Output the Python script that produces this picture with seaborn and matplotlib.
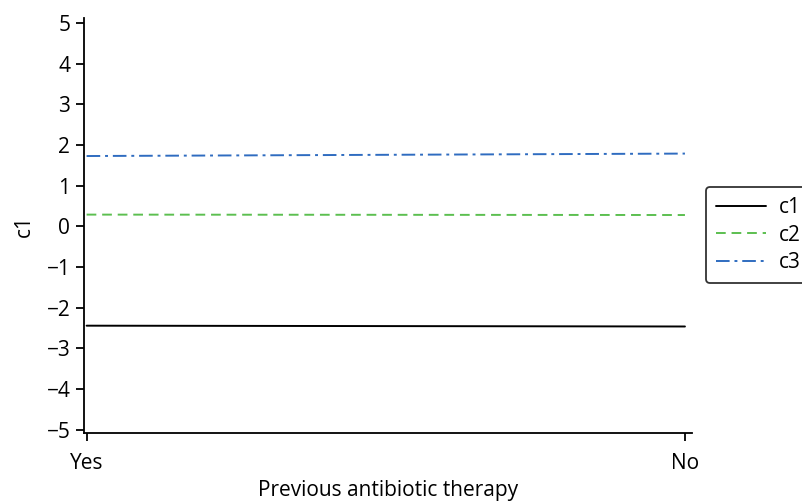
import matplotlib
matplotlib.use("Agg")
import matplotlib.pyplot as plt
import seaborn as sns
import pandas as pd

categories = ["Yes", "No"]
c1_vals = [-2.44, -2.46]
c2_vals = [0.29, 0.28]
c3_vals = [1.73, 1.79]
series_names = ["c1", "c2", "c3"]
colors = ["#000000", "#5cbf50", "#2f6cc0"]

rows = []
for name, vals in zip(series_names, [c1_vals, c2_vals, c3_vals]):
    for i, (cat, v) in enumerate(zip(categories, vals)):
        rows.append({"x": i, "cat": cat, "value": v, "series": name})
df = pd.DataFrame(rows)

sns.set_style("ticks")
plt.rcParams['font.family'] = ['Open Sans', 'DejaVu Sans']
plt.rcParams['text.color'] = 'black'
plt.rcParams['axes.labelcolor'] = 'black'

fig = plt.figure(figsize=(8.02, 5.03), dpi=100)
ax = fig.add_axes([0.105, 0.139, 0.758, 0.825])

dashes = {"c1": "", "c2": (5, 3), "c3": (7, 2.5, 1.5, 2.5)}
sns.lineplot(data=df, x="x", y="value", hue="series", style="series",
             palette=dict(zip(series_names, colors)), dashes=dashes,
             linewidth=1.4, ax=ax)

ax.set_xlim(-0.004, 1.012)
ax.set_ylim(-5.08, 5.12)
ax.set_xticks([0, 1])
ax.set_xticklabels(categories)
ax.set_yticks(range(-5, 6))
ax.set_yticklabels([str(v).replace("-", "\u2212") for v in range(-5, 6)])
ax.tick_params(labelsize=15, length=6, width=1.3, colors="black")
ax.tick_params(axis="x", pad=8)
ax.tick_params(axis="y", pad=4)
for s in ["top", "right"]:
    ax.spines[s].set_visible(False)
for s in ["left", "bottom"]:
    ax.spines[s].set_linewidth(1.3)
    ax.spines[s].set_color("black")
ax.set_xlabel("Previous antibiotic therapy", fontsize=15, color="black", labelpad=5)
ax.set_ylabel("c1", fontsize=15, color="black", labelpad=8)

leg = ax.legend(title=None, loc="center left", bbox_to_anchor=(1.022, 0.477),
                fontsize=15, frameon=True, fancybox=True, handlelength=2.4,
                borderpad=0.5, labelspacing=0.3, handletextpad=0.6,
                borderaxespad=0)
leg.get_frame().set_edgecolor("black")
leg.get_frame().set_linewidth(1.3)
for t in leg.get_texts():
    t.set_color("black")

fig.savefig("out.png", dpi=100)
